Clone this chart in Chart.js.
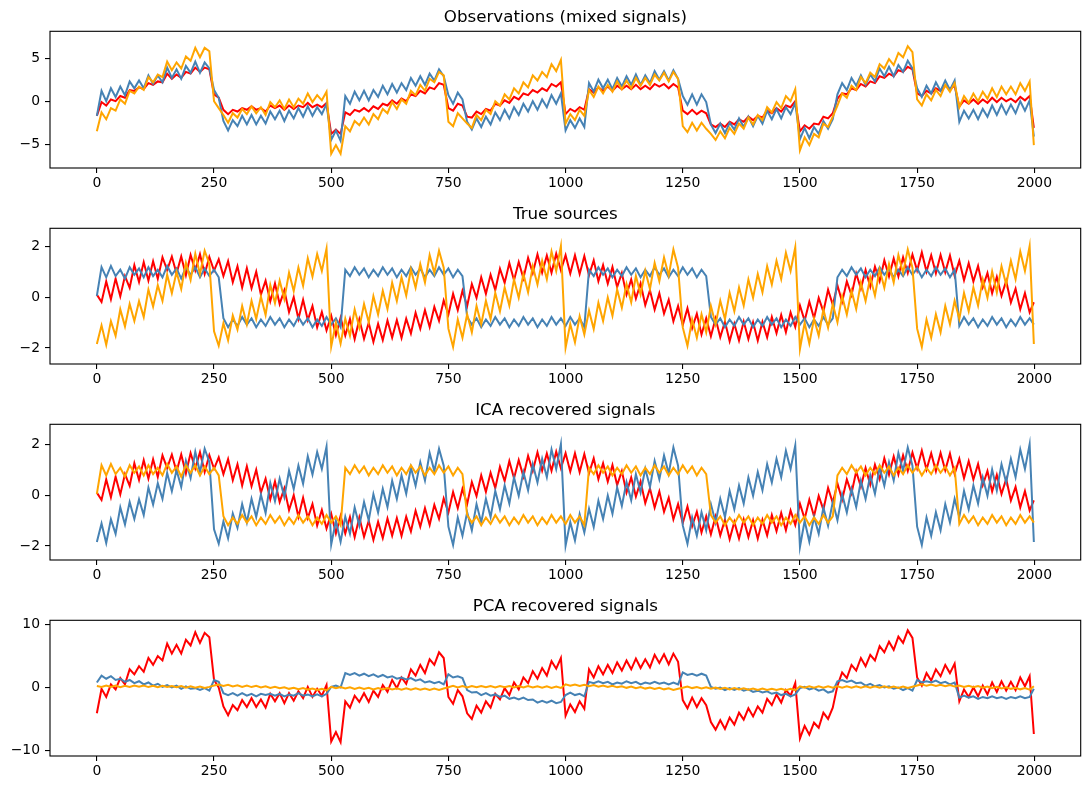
<!DOCTYPE html>
<html>
<head>
<meta charset="utf-8">
<title>ICA vs PCA</title>
<script src="https://cdn.jsdelivr.net/npm/chart.js@4.4.1/dist/chart.umd.min.js"></script>
<style>
  html, body { margin: 0; padding: 0; background: #fff; }
  body { width: 1090px; height: 790px; position: relative; overflow: hidden; }
  canvas { position: absolute; left: 0; }
</style>
</head>
<body>
<canvas id="obs"></canvas>
<canvas id="src"></canvas>
<canvas id="ica"></canvas>
<canvas id="pca"></canvas>
<script>
// sample index of each plotted point (every 10th sample, plus the last one)
const sampleIdx = [
  0,10,20,30,40,50,60,70,80,90,100,110,120,130,140,150,160,170,180,190,
  200,210,220,230,240,250,260,270,280,290,300,310,320,330,340,350,360,370,380,390,
  400,410,420,430,440,450,460,470,480,490,500,510,520,530,540,550,560,570,580,590,
  600,610,620,630,640,650,660,670,680,690,700,710,720,730,740,750,760,770,780,790,
  800,810,820,830,840,850,860,870,880,890,900,910,920,930,940,950,960,970,980,990,
  1000,1010,1020,1030,1040,1050,1060,1070,1080,1090,1100,1110,1120,1130,1140,1150,1160,1170,1180,1190,
  1200,1210,1220,1230,1240,1250,1260,1270,1280,1290,1300,1310,1320,1330,1340,1350,1360,1370,1380,1390,
  1400,1410,1420,1430,1440,1450,1460,1470,1480,1490,1500,1510,1520,1530,1540,1550,1560,1570,1580,1590,
  1600,1610,1620,1630,1640,1650,1660,1670,1680,1690,1700,1710,1720,1730,1740,1750,1760,1770,1780,1790,
  1800,1810,1820,1830,1840,1850,1860,1870,1880,1890,1900,1910,1920,1930,1940,1950,1960,1970,1980,1990,
  1999
];
const xTicks = [0, 250, 500, 750, 1000, 1250, 1500, 1750, 2000];

// true sources (also what ICA gives back)
const srcSine = [
  0.1,-0.19,0.62,-0.08,0.73,0.03,0.83,0.37,1.26,0.6,
  1.38,0.65,1.41,0.72,1.57,1.07,1.6,0.93,1.6,0.86,
  1.66,1.05,1.69,0.91,1.58,1.04,1.49,0.83,1.42,0.59,
  1.22,0.38,1.14,0.35,1.0,0.1,0.65,-0.16,0.54,-0.27,
  0.27,-0.59,0,-0.85,-0.1,-0.9,-0.35,-1.19,-0.58,-1.31,
  -0.73,-1.5,-0.81,-1.51,-0.86,-1.65,-0.87,-1.64,-1.01,-1.76,
  -1.05,-1.69,-0.92,-1.59,-0.9,-1.6,-0.85,-1.43,-0.61,-1.24,
  -0.51,-1.17,-0.38,-0.93,-0.13,-0.68,0.13,-0.51,0.25,-0.35,
  0.52,-0.03,0.78,0.13,0.88,0.28,1.12,0.56,1.34,0.67,
  1.38,0.74,1.55,0.95,1.69,0.97,1.64,0.96,1.71,1.06,
  1.65,0.93,1.65,0.91,1.62,0.86,1.45,0.63,1.26,0.53,
  1.19,0.4,0.95,0.1,0.7,-0.05,0.54,-0.31,0.27,-0.49,
  0.15,-0.65,-0.1,-0.95,-0.35,-1.1,-0.44,-1.22,-0.65,-1.47,
  -0.83,-1.54,-0.84,-1.58,-0.96,-1.73,-1.05,-1.71,-0.96,-1.65,
  -0.98,-1.71,-0.97,-1.58,-0.78,-1.42,-0.7,-1.38,-0.6,-1.17,
  -0.33,-0.93,-0.18,-0.83,-0.03,-0.57,0.29,-0.3,0.46,-0.18,
  0.62,0.08,0.93,0.33,1.07,0.41,1.2,0.63,1.45,0.81,
  1.52,0.82,1.57,0.95,1.68,1.05,1.76,1.01,1.65,0.94,
  1.66,0.98,1.64,0.84,1.43,0.67,1.34,0.62,1.23,0.39,
  0.95,0.15,0.8,0.05,0.64,-0.21,0.33,-0.48,0.16,-0.6,
  -0.2
];
const srcSquare = [
  0.05,1.18,0.78,1.23,0.83,1.08,0.73,1.18,0.88,1.13,
  0.78,1.18,0.83,1.08,0.78,1.23,0.88,1.13,0.73,1.18,
  0.88,1.18,0.78,1.13,0.83,1.08,0.78,-0.83,-1.18,-0.88,
  -1.13,-0.78,-1.08,-0.83,-1.18,-0.88,-1.13,-0.78,-1.08,-0.83,
  -1.18,-0.88,-1.13,-0.78,-1.08,-0.83,-1.18,-0.88,-1.13,-0.78,
  -1.08,-0.83,-1.18,1.08,0.83,1.18,0.88,1.13,0.78,1.08,
  0.83,1.18,0.88,1.13,0.78,1.08,0.83,1.18,0.88,1.13,
  0.78,1.08,0.83,1.18,0.88,1.13,0.78,1.08,0.83,-0.78,
  -1.08,-0.83,-1.18,-0.88,-1.13,-0.78,-1.08,-0.83,-1.18,-0.88,
  -1.13,-0.78,-1.08,-0.83,-1.18,-0.88,-1.13,-0.78,-1.08,-0.83,
  -1.13,-0.78,-1.08,-0.83,-1.18,1.08,0.83,1.18,0.88,1.13,
  0.78,1.08,0.83,1.18,0.88,1.13,0.78,1.08,0.83,1.18,
  0.88,1.13,0.78,1.08,0.83,1.18,0.88,1.13,0.78,1.08,
  0.83,-0.78,-1.08,-0.83,-1.18,-0.88,-1.13,-0.78,-1.08,-0.83,
  -1.18,-0.88,-1.13,-0.78,-1.08,-0.83,-1.18,-0.88,-1.13,-0.78,
  -1.08,-0.83,-1.18,-0.88,-1.13,-0.78,-1.08,-0.83,0.78,1.08,
  0.83,1.18,0.88,1.13,0.78,1.08,0.83,1.18,0.88,1.13,
  0.78,1.08,0.83,1.18,0.88,1.13,0.78,1.08,0.83,1.18,
  0.88,1.13,0.78,1.08,-1.13,-0.78,-1.08,-0.83,-1.18,-0.88,
  -1.13,-0.78,-1.08,-0.83,-1.18,-0.88,-1.13,-0.78,-1.08,-0.83,
  -1.08
];
const srcSawtooth = [
  -1.84,-1.11,-1.88,-0.95,-1.52,-0.48,-1.15,-0.27,-0.94,-0.16,
  -0.78,0.3,-0.37,0.47,-0.15,0.88,0.16,0.99,0.32,1.35,
  0.68,1.71,0.9,1.83,1.31,-1.34,-1.91,-1.03,-1.7,-0.72,
  -1.28,-0.35,-1.07,-0.14,-0.86,0.02,-0.7,0.48,-0.23,0.65,
  -0.07,0.96,0.24,1.17,0.45,1.53,0.81,1.7,1.03,1.91,
  -1.94,-1.01,-1.83,-0.85,-1.52,-0.48,-1.2,-0.27,-0.99,0.04,
  -0.68,0.25,-0.47,0.57,-0.15,0.78,0.06,1.09,0.37,1.3,
  0.58,1.66,0.95,1.83,1.16,-1.24,-1.96,-0.88,-1.6,-0.67,
  -1.38,-0.35,-1.07,-0.14,-0.86,0.17,-0.55,0.38,-0.33,0.7,
  -0.02,0.91,0.19,1.22,0.5,1.43,0.71,1.8,1.03,2.01,
  -1.99,-1.06,-1.78,-0.75,-1.47,-0.53,-1.25,-0.22,-0.94,-0.01,
  -0.73,0.3,-0.42,0.52,-0.2,0.83,0.11,1.04,0.32,1.35,
  0.63,1.56,0.85,1.88,1.16,-1.19,-1.91,-0.88,-1.6,-0.67,
  -1.38,-0.35,-1.07,-0.14,-0.86,0.17,-0.55,0.38,-0.33,0.7,
  -0.02,0.91,0.19,1.22,0.5,1.43,0.71,1.75,1.03,1.96,
  -2.04,-1.01,-1.83,-0.85,-1.52,-0.48,-1.2,-0.27,-0.99,0.04,
  -0.68,0.25,-0.47,0.57,-0.15,0.78,0.06,1.09,0.37,1.3,
  0.58,1.66,0.95,1.88,1.16,-1.24,-1.96,-0.88,-1.6,-0.67,
  -1.38,-0.35,-1.07,-0.14,-0.86,0.17,-0.55,0.38,-0.33,0.7,
  -0.02,1.01,0.19,1.22,0.5,1.43,0.71,1.8,1.03,2.01,
  -1.84
];

// observations (mixed signals)
const obsRed = [
  -1.7,-0.1,-0.5,0.2,0,0.6,0.4,1.3,1.2,1.6,
  1.4,2.1,1.9,2.3,2.2,3.2,2.6,3.1,2.7,3.4,
  3.2,3.9,3.4,3.9,3.7,0.8,0.4,-1.0,-1.5,-1.0,
  -1.2,-0.8,-1.0,-0.6,-1.0,-0.8,-1.2,-0.5,-0.8,-0.5,
  -1.0,-0.5,-0.9,-0.5,-0.7,-0.2,-0.7,-0.4,-0.7,-0.2,
  -3.8,-3.3,-3.8,-1.3,-1.6,-1.0,-1.2,-0.8,-1.2,-0.6,
  -0.9,-0.3,-0.5,0.1,-0.3,0.3,0,0.8,0.6,1.2,
  0.9,1.6,1.4,2.1,1.9,-0.8,-1.1,-0.3,-0.5,-1.8,
  -1.9,-1.2,-1.5,-0.9,-1.1,-0.3,-0.5,0.1,-0.2,0.5,
  0.2,0.9,0.7,1.3,1.0,1.5,1.2,2.0,1.7,2.2,
  -1.5,-0.9,-1.2,-0.7,-1.0,1.4,1.0,1.6,1.2,1.7,
  1.2,1.8,1.4,1.8,1.4,1.9,1.4,1.8,1.4,2.0,
  1.7,2.0,1.5,2.0,1.6,-1.1,-1.5,-1.0,-1.5,-1.1,
  -1.4,-2.7,-3.0,-2.6,-3.0,-2.4,-2.7,-2.1,-2.4,-1.8,
  -2.2,-1.7,-1.9,-1.1,-1.4,-0.8,-1.2,-0.5,-0.7,0,
  -3.5,-2.8,-3.2,-2.6,-2.7,-1.8,-2.0,-1.4,0.3,0.9,
  0.8,1.5,1.3,2.0,1.7,2.3,2.1,2.9,2.7,3.2,
  2.9,3.6,3.4,4.0,3.7,0.9,0.6,1.2,0.9,1.5,
  1.2,1.8,1.4,1.8,-0.6,0.1,-0.3,0.2,-0.3,0.2,
  -0.2,0.4,-0.1,0.4,0,0.3,-0.1,0.5,0.1,0.6,
  -3.1
];
const obsBlue = [
  -1.7,1.2,0,1.5,0.5,1.7,0.7,2.3,1.5,2.4,
  1.5,3.0,2.0,3.0,2.2,3.9,2.7,3.7,2.6,4.1,
  3.3,4.6,3.3,4.5,3.8,1.3,0.4,-2.3,-3.4,-2.2,
  -2.9,-1.7,-2.7,-1.6,-2.7,-1.7,-2.6,-1.2,-2.1,-1.1,
  -2.3,-1.1,-2.0,-0.8,-1.8,-0.6,-1.7,-0.7,-1.5,-0.3,
  -4.5,-3.4,-4.6,0.6,-0.3,1.1,0.1,1.2,0.1,1.3,
  0.5,1.8,0.8,2.0,1.0,2.1,1.3,2.7,1.8,2.9,
  1.9,3.2,2.4,3.7,2.9,0.7,-0.3,1.0,0.2,-2.4,
  -3.3,-2.0,-3.0,-1.8,-2.7,-1.3,-2.2,-1.0,-2.0,-0.7,
  -1.6,-0.3,-1.2,0,-1.0,0.2,-0.7,0.7,-0.3,0.9,
  -3.4,-2.2,-3.1,-2.0,-3.0,2.1,1.1,2.5,1.5,2.5,
  1.4,2.7,1.7,2.9,1.9,3.1,1.9,3.0,2.1,3.5,
  2.5,3.5,2.4,3.6,2.6,0.6,-0.4,0.8,-0.4,0.8,
  -0.1,-2.7,-3.7,-2.6,-3.7,-2.5,-3.3,-2.0,-3.0,-1.8,
  -2.9,-1.7,-2.6,-1.1,-2.1,-0.9,-2.0,-0.7,-1.5,-0.2,
  -4.4,-3.1,-4.3,-3.0,-3.8,-2.3,-3.2,-2.1,0.8,2.1,
  1.3,2.7,1.8,3.0,1.9,3.1,2.3,3.8,2.9,4.0,
  2.9,4.2,3.4,4.7,3.8,1.5,0.5,1.8,0.9,2.2,
  1.2,2.4,1.3,2.4,-2.4,-1.1,-2.0,-1.0,-2.1,-0.9,
  -1.8,-0.5,-1.6,-0.4,-1.5,-0.4,-1.4,0,-1.1,0.1,
  -4.1
];
const obsOrange = [
  -3.5,-1.3,-2.1,-0.8,-1.1,0.2,-0.3,1.2,0.9,1.7,
  1.3,2.8,2.2,3.1,2.8,4.6,3.6,4.5,3.8,5.2,
  4.7,6.2,5.1,6.2,5.8,0,-0.8,-1.6,-2.5,-1.4,
  -1.9,-0.9,-1.5,-0.6,-1.4,-0.7,-1.6,-0.1,-0.7,0.1,
  -0.9,0.2,-0.7,0.3,-0.3,0.9,-0.1,0.7,0.1,1.1,
  -6.1,-5.1,-6.1,-2.9,-3.5,-2.3,-2.8,-1.9,-2.7,-1.5,
  -2.1,-0.9,-1.4,-0.1,-0.9,0.2,-0.3,1.2,0.7,1.9,
  1.2,2.6,2.2,3.4,3.0,-2.4,-2.9,-1.4,-2.0,-2.6,
  -3.1,-1.6,-2.2,-1.0,-1.5,0,-0.5,0.8,0.2,1.5,
  0.9,2.2,1.6,3.0,2.4,3.4,2.8,4.3,3.5,4.8,
  -2.6,-1.5,-2.2,-1.0,-1.7,1.3,0.5,1.7,0.9,1.9,
  1.1,2.3,1.4,2.4,1.5,2.7,1.8,2.7,1.9,3.1,
  2.4,3.3,2.3,3.4,2.6,-2.9,-3.6,-2.5,-3.4,-2.5,
  -3.2,-3.8,-4.5,-3.5,-4.3,-3.1,-3.8,-2.6,-3.2,-1.9,
  -2.7,-1.6,-2.2,-0.7,-1.3,-0.1,-0.8,0.6,0,1.4,
  -5.7,-4.2,-5.1,-3.8,-4.2,-2.6,-3.0,-1.8,-0.5,0.9,
  0.4,1.8,1.3,2.8,2.1,3.3,2.8,4.3,3.8,4.9,
  4.2,5.6,5.1,6.4,5.7,0.2,-0.5,0.8,0.1,1.3,
  0.6,1.9,1.1,2.1,-0.7,0.6,-0.2,0.9,0,1.1,
  0.3,1.5,0.5,1.7,0.8,1.7,0.8,2.1,1.2,2.3,
  -5.1
];

// PCA components
const pcaRed = [
  -4.1,-0.2,-1.5,0.5,-0.3,1.5,0.5,2.9,2.1,3.4,
  2.5,4.7,3.6,5.0,4.3,7.0,5.4,6.8,5.4,7.6,
  6.7,8.8,7.1,8.7,8.0,1.2,0,-3.0,-4.4,-2.8,
  -3.6,-2.0,-3.1,-1.7,-3.1,-1.9,-3.2,-1.0,-2.2,-0.9,
  -2.5,-0.9,-2.1,-0.6,-1.7,0.1,-1.5,-0.2,-1.3,0.4,
  -8.6,-7.1,-8.7,-2.2,-3.2,-1.3,-2.3,-0.9,-2.3,-0.5,
  -1.5,0.4,-0.7,1.2,-0.1,1.6,0.6,2.9,1.9,3.6,
  2.3,4.5,3.6,5.6,4.7,-1.5,-2.6,-0.4,-1.4,-4.1,
  -5.0,-2.9,-4.0,-2.2,-3.2,-1.0,-1.9,-0.1,-1.2,0.8,
  -0.3,1.6,0.7,2.6,1.4,3.1,1.9,4.2,3.0,4.7,
  -4.5,-2.7,-3.9,-2.2,-3.4,2.9,1.6,3.4,2.1,3.6,
  2.3,4.0,2.7,4.3,2.9,4.6,3.1,4.5,3.2,5.2,
  3.9,5.3,3.7,5.4,4.1,-2.0,-3.3,-1.6,-3.1,-1.7,
  -2.8,-5.5,-6.7,-5.2,-6.6,-4.8,-5.9,-4.0,-5.1,-3.3,
  -4.6,-3.0,-4.0,-1.8,-2.8,-1.1,-2.4,-0.4,-1.3,0.7,
  -8.1,-6.1,-7.5,-5.6,-6.4,-4.0,-5.0,-3.2,0.3,2.4,
  1.5,3.6,2.7,4.7,3.4,5.2,4.3,6.6,5.6,7.3,
  6.0,8.1,7.1,9.1,7.9,1.6,0.3,2.3,1.1,2.9,
  1.8,3.6,2.3,3.8,-2.2,-0.3,-1.5,0,-1.4,0.3,
  -1.1,0.8,-0.7,1.0,-0.5,0.9,-0.4,1.6,0.2,1.8,
  -7.4
];
const pcaBlue = [
  0.8,1.9,1.4,1.8,1.2,1.4,0.9,1.2,0.7,1.0,
  0.5,0.8,0.3,0.6,0.1,0.4,0,0.3,-0.2,0.2,
  -0.2,-0.1,-0.4,-0.1,-0.5,1.2,0.9,-0.9,-1.2,-0.9,
  -1.3,-0.9,-1.3,-1.0,-1.4,-1.0,-1.2,-1.0,-1.3,-1.0,
  -1.4,-1.1,-1.3,-0.9,-1.3,-1.1,-1.4,-1.1,-1.4,-1.0,
  0.1,0.3,0,2.3,2.0,2.3,1.9,2.2,1.8,2.1,
  1.7,2.0,1.6,1.8,1.4,1.6,1.3,1.5,1.1,1.3,
  0.8,1.0,0.7,0.9,0.5,2.1,1.6,1.8,1.5,-0.4,
  -0.8,-0.7,-1.2,-0.9,-1.3,-1.1,-1.5,-1.3,-1.8,-1.6,
  -1.9,-1.6,-2.0,-1.9,-2.4,-2.1,-2.4,-2.1,-2.5,-2.3,
  -1.2,-0.8,-1.2,-1.0,-1.4,0.9,0.7,1.0,0.7,0.9,
  0.5,0.8,0.6,1.0,0.7,0.9,0.5,0.8,0.6,0.9,
  0.6,0.8,0.5,0.8,0.5,2.4,2.0,2.2,1.9,2.2,
  1.9,0.1,-0.2,0,-0.4,-0.1,-0.4,-0.1,-0.5,-0.3,
  -0.7,-0.5,-0.8,-0.6,-1.0,-0.8,-1.2,-1.0,-1.4,-1.1,
  -0.1,0.1,-0.3,-0.1,-0.5,-0.3,-0.8,-0.6,1.0,1.2,
  0.9,1.1,0.7,0.8,0.3,0.6,0.2,0.4,0,0.2,
  -0.2,0,-0.4,-0.1,-0.5,1.2,0.8,1.0,0.8,1.1,
  0.7,0.9,0.5,0.8,-1.6,-1.3,-1.6,-1.4,-1.8,-1.5,
  -1.7,-1.4,-1.7,-1.5,-1.8,-1.5,-1.7,-1.4,-1.7,-1.5,
  -0.2
];
const pcaOrange = [
  0.24,0.10,0.33,0.10,0.30,0.06,0.27,0.09,0.31,0.12,
  0.31,0.07,0.27,0.06,0.27,0.07,0.24,0.03,0.22,-0.02,
  0.18,-0.04,0.16,-0.07,0.10,0.33,0.47,0.26,0.43,0.18,
  0.35,0.10,0.31,0.07,0.26,0.01,0.19,-0.08,0.11,-0.12,
  0.05,-0.21,-0.03,-0.28,-0.07,-0.33,-0.15,-0.39,-0.22,-0.44,
  0.12,-0.12,0.09,-0.14,0.04,-0.21,0.01,-0.23,-0.04,-0.29,
  -0.09,-0.30,-0.09,-0.32,-0.13,-0.35,-0.14,-0.36,-0.14,-0.35,
  -0.15,-0.39,-0.18,-0.37,-0.16,0.04,0.26,0.02,0.23,0.02,
  0.25,0.04,0.25,0.04,0.24,0.02,0.25,0.04,0.25,0.02,
  0.22,0.01,0.23,0.01,0.21,-0.02,0.18,-0.06,0.15,-0.07,
  0.50,0.28,0.48,0.24,0.44,0.20,0.38,0.13,0.31,0.09,
  0.28,0.03,0.20,-0.05,0.14,-0.11,0.07,-0.17,0,-0.24,
  -0.05,-0.29,-0.12,-0.38,-0.20,-0.03,0.16,-0.09,0.09,-0.15,
  0.03,-0.20,-0.01,-0.24,-0.05,-0.30,-0.10,-0.32,-0.11,-0.35,
  -0.15,-0.38,-0.18,-0.40,-0.19,-0.40,-0.20,-0.43,-0.22,-0.42,
  0.19,-0.03,0.19,-0.03,0.18,-0.03,0.19,-0.02,0.19,-0.03,
  0.18,-0.02,0.21,-0.02,0.19,-0.03,0.19,-0.03,0.19,-0.03,
  0.17,-0.07,0.14,-0.07,0.13,0.32,0.52,0.27,0.46,0.23,
  0.43,0.20,0.39,0.15,0.33,0.09,0.28,0.05,0.24,-0.02,
  0.15,-0.10,0.11,-0.14,0.04,-0.21,-0.03,-0.29,-0.10,-0.34,
  0.19
];

const RED = "#ff0000";
const BLUE = "#4682b4";
const ORANGE = "#ffa500";
const FONT = "'DejaVu Sans', sans-serif";

const TITLE_H = 23.3;   // title line + gap above the axes
const XAXIS_H = 30;     // tick marks + tick labels under the axes
const PLOT_LEFT = 50;
const PLOT_RIGHT = 1080.7;

Chart.defaults.color = "#000";
Chart.defaults.font.family = FONT;

const frame = {
  id: "frame",
  afterDraw(chart) {
    const { ctx, chartArea: a } = chart;
    ctx.save();
    ctx.strokeStyle = "#000";
    ctx.lineWidth = 1.1;
    ctx.strokeRect(a.left, a.top, a.right - a.left, a.bottom - a.top);
    ctx.restore();
  }
};

function minusFmt(v) {
  return v < 0 ? "\u2212" + Math.abs(v) : String(v);
}

function drawPanel(id, title, top, bottom, yMin, yMax, yTicks, series) {
  const canvas = document.getElementById(id);
  const h = Math.round(TITLE_H + (bottom - top) + XAXIS_H);
  canvas.width = 1090;
  canvas.height = h;
  canvas.style.width = "1090px";
  canvas.style.height = h + "px";
  canvas.style.top = (top - TITLE_H) + "px";

  const tickGrid = {
    display: true,
    drawOnChartArea: false,
    drawTicks: true,
    tickLength: 5,
    color: "#000",
    lineWidth: 1.1
  };

  new Chart(canvas, {
    type: "line",
    data: {
      labels: sampleIdx,
      datasets: series.map(([d, c], i) => ({
        data: d,
        borderColor: c,
        backgroundColor: c,
        borderWidth: 2,
        pointRadius: 0,
        tension: 0,
        order: series.length - i
      }))
    },
    options: {
      responsive: false,
      animation: false,
      events: [],
      layout: { padding: { left: 0, right: 1090 - PLOT_RIGHT, top: 0, bottom: 0 } },
      plugins: {
        legend: { display: false },
        tooltip: { enabled: false },
        title: {
          display: true,
          fullSize: false,
          text: title,
          color: "#000",
          font: { family: FONT, size: 16.7, weight: "normal", lineHeight: 1.2 },
          padding: { top: 0, bottom: TITLE_H - 20.04 }
        }
      },
      scales: {
        x: {
          type: "linear",
          min: -99.95,
          max: 2098.95,
          afterBuildTicks: s => { s.ticks = xTicks.map(v => ({ value: v })); },
          afterFit: s => { s.height = XAXIS_H; },
          grid: tickGrid,
          border: { display: false },
          ticks: {
            autoSkip: false,
            maxRotation: 0,
            padding: 2,
            color: "#000",
            font: { family: FONT, size: 13.9 },
            callback: v => String(v)
          }
        },
        y: {
          min: yMin,
          max: yMax,
          afterBuildTicks: s => { s.ticks = yTicks.map(v => ({ value: v })); },
          afterFit: s => { s.width = PLOT_LEFT; },
          grid: tickGrid,
          border: { display: false },
          ticks: {
            padding: 5,
            color: "#000",
            font: { family: FONT, size: 13.9 },
            callback: v => minusFmt(v)
          }
        }
      }
    },
    plugins: [frame]
  });
}

drawPanel("obs", "Observations (mixed signals)", 31.5, 168, -7.76, 8.12, [-5, 0, 5],
  [[obsRed, RED], [obsBlue, BLUE], [obsOrange, ORANGE]]);
drawPanel("src", "True sources", 228.3, 364.3, -2.63, 2.71, [-2, 0, 2],
  [[srcSine, RED], [srcSquare, BLUE], [srcSawtooth, ORANGE]]);
drawPanel("ica", "ICA recovered signals", 424.3, 560, -2.55, 2.79, [-2, 0, 2],
  [[srcSine, RED], [srcSawtooth, BLUE], [srcSquare, ORANGE]]);
drawPanel("pca", "PCA recovered signals", 620.7, 756, -10.9, 10.7, [-10, 0, 10],
  [[pcaRed, RED], [pcaBlue, BLUE], [pcaOrange, ORANGE]]);
</script>
</body>
</html>
